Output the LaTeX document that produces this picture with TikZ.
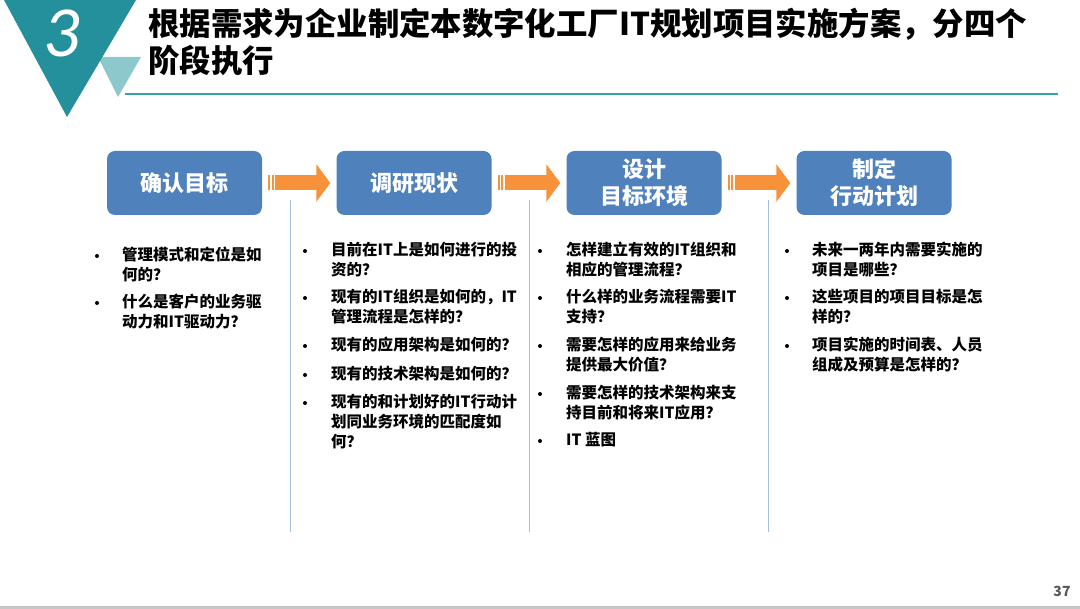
\documentclass[tikz,border=0pt]{standalone}
\usepackage{fontspec}
\setmainfont{Noto Sans CJK SC}
\newfontfamily\numfont{Carlito}
\usetikzlibrary{arrows.meta,calc}
\definecolor{teal1}{HTML}{23909C}
\definecolor{teal2}{HTML}{8CC8CC}
\definecolor{tline}{HTML}{3A9CB0}
\definecolor{boxblue}{HTML}{4F81BD}
\definecolor{arrorange}{HTML}{F7923A}
\definecolor{vline}{HTML}{A6BFDD}
\definecolor{pgray}{HTML}{595959}
\newcommand\linestack[1]{\vtop{\halign{##\hfil\cr#1\crcr}}}
\begin{document}
\begin{tikzpicture}[x=1pt,y=-1pt,
  stagebox/.style={fill=boxblue, rounded corners=8pt, minimum width=155pt, minimum height=64pt,
    text=white, align=center, inner sep=0pt,
    font=\fontsize{22}{27}\selectfont\bfseries},
  flow/.style={draw=arrorange, line width=15pt, line cap=butt, -{Triangle[length=14pt,width=37pt]}},
  stripe/.style={fill=arrorange},
  item/.style={anchor=base west, inner sep=0pt, text=black,
    font=\fontsize{15.5}{20}\selectfont\bfseries},
  dot/.style={fill=black},
  sep/.style={draw=vline, line width=1pt}
]
\useasboundingbox (0,0) rectangle (1080,609);
\fill[white] (0,0) rectangle (1080,609);

% header
\fill[teal2] (98,57) -- (141,57) -- (118,97) -- cycle;
\fill[teal1] (4,0) -- (136,0) -- (67,117) -- cycle;
\node[text=white, font=\numfont\itshape\fontsize{72}{72}\selectfont, inner sep=0pt] (num) at (62,33) {3};
\node[anchor=base west, inner sep=0pt, font=\fontsize{31.4}{37}\selectfont\bfseries] (title) at (148,36)
  {\linestack{根据需求为企业制定本数字化工厂IT规划项目实施方案，分四个\cr 阶段执行}};
\draw[tline, line width=1.2pt] (125,94) -- (1058,94);

% stage boxes
\node[stagebox] (b1) at (184.5,183) {确认目标};
\node[stagebox] (b2) at (414,183) {调研现状};
\node[stagebox] (b3) at (644,183) {设计\\目标环境};
\node[stagebox] (b4) at (874,183) {制定\\行动计划};

% arrows
\foreach \a/\b in {b1/b2,b2/b3,b3/b4}{
  \fill[stripe] ($(\a.east)+(6,-7.5)$) rectangle ($(\a.east)+(7.8,7.5)$);
  \fill[stripe] ($(\a.east)+(9.6,-7.5)$) rectangle ($(\a.east)+(11.4,7.5)$);
  \draw[flow] ($(\a.east)+(13,0)$) -- ($(\b.west)+(-6,0)$);
}

% separators
\draw[sep] (290,200) -- (290,532);
\draw[sep] (529,200) -- (529,532);
\draw[sep] (768,200) -- (768,532);

% column 1
\node[item] (c1a) at (122,261) {\linestack{管理模式和定位是如\cr 何的？}};
\node[item] (c1b) at (122,308) {\linestack{什么是客户的业务驱\cr 动力和IT驱动力？}};
\fill[dot] (97,256) circle (2);
\fill[dot] (97,303) circle (2);

% column 2
\node[item] (c2a) at (331,256) {\linestack{目前在IT上是如何进行的投\cr 资的？}};
\node[item] (c2b) at (331,303) {\linestack{现有的IT组织是如何的，IT\cr 管理流程是怎样的？}};
\node[item] (c2c) at (331,351) {现有的应用架构是如何的？};
\node[item] (c2d) at (331,380) {现有的技术架构是如何的？};
\node[item] (c2e) at (331,408) {\linestack{现有的和计划好的IT行动计\cr 划同业务环境的匹配度如\cr 何？}};
\foreach \y in {251,298,346,375,403} \fill[dot] (305,\y) circle (2);

% column 3
\node[item] (c3a) at (566,256) {\linestack{怎样建立有效的IT组织和\cr 相应的管理流程？}};
\node[item] (c3b) at (566,303) {\linestack{什么样的业务流程需要IT\cr 支持？}};
\node[item] (c3c) at (566,351) {\linestack{需要怎样的应用来给业务\cr 提供最大价值？}};
\node[item] (c3d) at (566,399) {\linestack{需要怎样的技术架构来支\cr 持目前和将来IT应用？}};
\node[item] (c3e) at (566,446) {IT 蓝图};
\foreach \y in {251,298,346,394,441} \fill[dot] (540,\y) circle (2);

% column 4
\node[item] (c4a) at (812,256) {\linestack{未来一两年内需要实施的\cr 项目是哪些？}};
\node[item] (c4b) at (812,303) {\linestack{这些项目的项目目标是怎\cr 样的？}};
\node[item] (c4c) at (812,351) {\linestack{项目实施的时间表、人员\cr 组成及预算是怎样的？}};
\foreach \y in {251,298,346} \fill[dot] (787,\y) circle (2);

% footer
\fill[black!22] (0,606) rectangle (1080,609);
\node[text=pgray, font=\fontsize{14}{14}\selectfont\bfseries, inner sep=0pt] (page) at (1062,591) {37};
\end{tikzpicture}
\end{document}
